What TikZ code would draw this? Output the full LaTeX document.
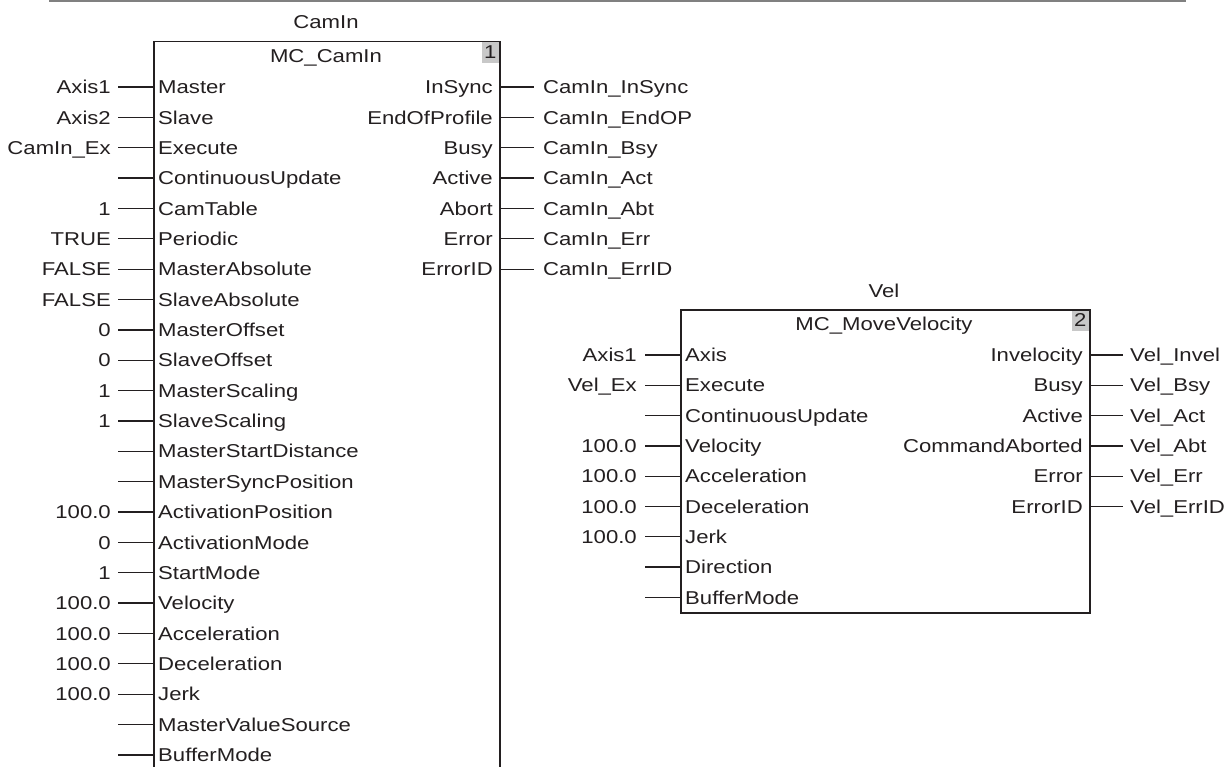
\documentclass[tikz,border=0pt]{standalone}
\usepackage{fontspec}
\setmainfont[FakeStretch=1.19]{Liberation Sans}
\definecolor{txt}{HTML}{231F20}
\definecolor{edge}{HTML}{231F20}
\definecolor{numgray}{HTML}{C8C8C8}
\definecolor{topline}{HTML}{808080}
\newcommand\fbsize{\fontsize{18.6pt}{22pt}\selectfont}
\tikzset{
  lbl/.style={inner sep=0pt, text height=13.3pt, text depth=0pt, font=\fbsize, text=txt},
  blk/.style={draw=edge, line width=1.5pt, inner sep=0pt},
  wire/.style={draw=edge, line width=1.3pt},
  numbox/.style={lbl, fill=numgray, minimum width=17pt, minimum height=22pt, anchor=north east},
}
\begin{document}
\begin{tikzpicture}[x=1pt,y=-1pt]
\useasboundingbox (0,0) rectangle (1230,767);
\clip (0,0) rectangle (1230,767);
% top rule
\draw[line width=2.5pt, topline] (49,1.2) -- (1186,1.2);

% ---------- CamIn block ----------
\node[lbl] (ci-name) at (326,22) {CamIn};
\node[numbox] (ci-num) at (499,41) {1};
\node[blk, minimum width=346pt, minimum height=760pt, anchor=north west] (ci) at (153,41) {};
\node[lbl] (ci-type) at (326,56) {MC\_CamIn};

\foreach \i/\pin/\val in {
  0/Master/Axis1, 1/Slave/Axis2, 2/Execute/CamIn\_Ex, 3/ContinuousUpdate/,
  4/CamTable/1, 5/Periodic/TRUE, 6/MasterAbsolute/FALSE, 7/SlaveAbsolute/FALSE,
  8/MasterOffset/0, 9/SlaveOffset/0, 10/MasterScaling/1, 11/SlaveScaling/1,
  12/MasterStartDistance/, 13/MasterSyncPosition/, 14/ActivationPosition/100.0,
  15/ActivationMode/0, 16/StartMode/1, 17/Velocity/100.0, 18/Acceleration/100.0,
  19/Deceleration/100.0, 20/Jerk/100.0, 21/MasterValueSource/, 22/BufferMode/}{
  \pgfmathsetmacro\y{87+30.36*\i}
  \coordinate (ci-pin\i) at (153,\y);
  \node[lbl, anchor=west] (ci-in\i) at (158,\y) {\pin};
  \node[lbl, anchor=east] (ci-v\i) at (111,\y) {\val};
  \draw[wire] ([xshift=7pt]ci-v\i.east) -- (ci-pin\i);
}

\foreach \i/\pin/\val in {
  0/InSync/CamIn\_InSync, 1/EndOfProfile/CamIn\_EndOP, 2/Busy/CamIn\_Bsy,
  3/Active/CamIn\_Act, 4/Abort/CamIn\_Abt, 5/Error/CamIn\_Err, 6/ErrorID/CamIn\_ErrID}{
  \pgfmathsetmacro\y{87+30.36*\i}
  \coordinate (co-pin\i) at (499,\y);
  \node[lbl, anchor=east] (co-out\i) at (493,\y) {\pin};
  \node[lbl, anchor=west] (co-v\i) at (543,\y) {\val};
  \draw[wire] (co-pin\i) -- ([xshift=-9pt]co-v\i.west);
}

% ---------- Vel block ----------
\node[lbl] (vi-name) at (884,291) {Vel};
\node[numbox] (vi-num) at (1089,309) {2};
\node[blk, minimum width=409pt, minimum height=303pt, anchor=north west] (vb) at (680,309) {};
\node[lbl] (vi-type) at (884,324) {MC\_MoveVelocity};

\foreach \i/\pin/\val in {
  0/Axis/Axis1, 1/Execute/Vel\_Ex, 2/ContinuousUpdate/, 3/Velocity/100.0,
  4/Acceleration/100.0, 5/Deceleration/100.0, 6/Jerk/100.0, 7/Direction/, 8/BufferMode/}{
  \pgfmathsetmacro\y{355+30.3*\i}
  \coordinate (vi-pin\i) at (680,\y);
  \node[lbl, anchor=west] (vi-in\i) at (685,\y) {\pin};
  \node[lbl, anchor=east] (vi-v\i) at (637,\y) {\val};
  \draw[wire] ([xshift=8pt]vi-v\i.east) -- (vi-pin\i);
}

\foreach \i/\pin/\val in {
  0/Invelocity/Vel\_Invel, 1/Busy/Vel\_Bsy, 2/Active/Vel\_Act,
  3/CommandAborted/Vel\_Abt, 4/Error/Vel\_Err, 5/ErrorID/Vel\_ErrID}{
  \pgfmathsetmacro\y{355+30.3*\i}
  \coordinate (vo-pin\i) at (1089,\y);
  \node[lbl, anchor=east] (vo-out\i) at (1083,\y) {\pin};
  \node[lbl, anchor=west] (vo-v\i) at (1130,\y) {\val};
  \draw[wire] (vo-pin\i) -- ([xshift=-7pt]vo-v\i.west);
}
\end{tikzpicture}
\end{document}
